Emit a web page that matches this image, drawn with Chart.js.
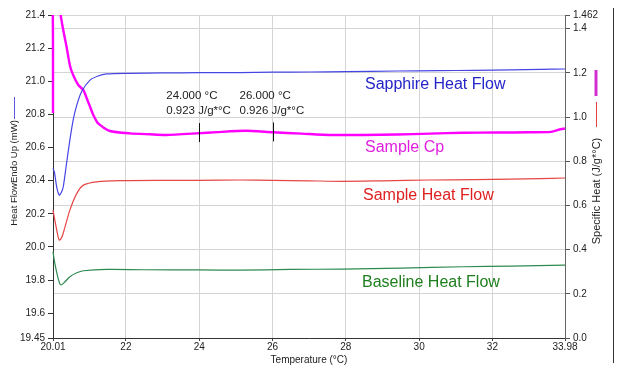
<!DOCTYPE html>
<html><head><meta charset="utf-8">
<script src="https://cdn.jsdelivr.net/npm/chart.js@4/dist/chart.umd.min.js"></script>
<style>html,body{margin:0;padding:0;background:#fff;}#wrap{position:relative;width:628px;height:379px;}</style>
</head><body><div id="wrap"><canvas id="c" width="628" height="379"></canvas></div>
<script>
// ---- tick labels ----
const xTicks = [20.01, 22, 24, 26, 28, 30, 32, 33.98];
const xTickLabels = ['20.01', '22', '24', '26', '28', '30', '32', '33.98'];
const leftTicks = [19.45, 19.6, 19.8, 20.0, 20.2, 20.4, 20.6, 20.8, 21.0, 21.2, 21.4];
const leftTickLabels = ['19.45', '19.6', '19.8', '20.0', '20.2', '20.4', '20.6', '20.8', '21.0', '21.2', '21.4'];
const rightTicks = [0, 0.2, 0.4, 0.6, 0.8, 1.0, 1.2, 1.4, 1.462];
const rightTickLabels = ['0.0', '0.2', '0.4', '0.6', '0.8', '1.0', '1.2', '1.4', '1.462'];

// ---- series (temperature °C, value) ----
const sapphireT = [20.01, 20.05, 20.11, 20.18, 20.24, 20.29, 20.38, 20.47, 20.56, 20.66, 20.79, 21.02, 21.24, 21.47, 22.1, 23.0, 24.0, 25.1, 26.0, 27.0, 28.0, 29.4, 30.5, 31.5, 32.5, 33.3, 33.98];
const sapphire  = [20.474, 20.45, 20.363, 20.313, 20.33, 20.363, 20.505, 20.645, 20.766, 20.857, 20.937, 21.007, 21.032, 21.044, 21.048, 21.05, 21.052, 21.052, 21.055, 21.056, 21.058, 21.062, 21.064, 21.066, 21.069, 21.072, 21.074];

const sampleT = [20.01, 20.06, 20.13, 20.18, 20.25, 20.34, 20.47, 20.66, 20.84, 21.2, 21.92, 23.0, 24.0, 25.1, 26.0, 27.0, 27.9, 29.0, 30.28, 31.5, 32.5, 33.3, 33.98];
const sample  = [20.222, 20.162, 20.082, 20.041, 20.058, 20.122, 20.222, 20.323, 20.373, 20.393, 20.40, 20.402, 20.402, 20.404, 20.402, 20.399, 20.396, 20.399, 20.404, 20.406, 20.409, 20.412, 20.416];

const baselineT = [20.01, 20.06, 20.15, 20.22, 20.34, 20.47, 20.66, 20.84, 21.47, 22.5, 24.0, 25.1, 26.5, 27.9, 29.5, 31.2, 32.5, 33.98];
const baseline  = [19.971, 19.90, 19.81, 19.77, 19.79, 19.82, 19.844, 19.856, 19.864, 19.862, 19.861, 19.86, 19.864, 19.866, 19.872, 19.88, 19.884, 19.89];

const cpT = [20.01, 20.01, 20.015, 20.22, 20.29, 20.38, 20.47, 20.56, 20.70, 20.84, 20.93, 21.02, 21.11, 21.24, 21.56, 22.11, 22.65, 23.1, 23.92, 24.5, 25.28, 26.0, 26.8, 27.55, 28.5, 29.38, 30.3, 31.2, 32.1, 33.0, 33.6, 33.86, 33.98];
const cp  = [1.018, 1.30, 1.75, 1.462, 1.394, 1.318, 1.235, 1.19, 1.145, 1.122, 1.085, 1.047, 1.009, 0.971, 0.937, 0.926, 0.922, 0.919, 0.926, 0.932, 0.938, 0.931, 0.925, 0.919, 0.919, 0.921, 0.925, 0.929, 0.930, 0.931, 0.933, 0.945, 0.948];

// ---- annotations ----
const annotT = [24, 26];
const annotCp = [0.923, 0.926];
const annotLine1 = ['24.000 °C', '26.000 °C'];
const annotLine2 = ['0.923 J/g*°C', '0.926 J/g*°C'];

const seriesLabels = ['Sapphire Heat Flow', 'Sample Cp', 'Sample Heat Flow', 'Baseline Heat Flow'];

const FONT = 'Arial, "Liberation Sans", sans-serif';
const pts = (xs, ys) => xs.map((x, i) => ({x: x, y: ys[i]}));

const overlay = {
  id: 'overlay',
  afterDraw(chart) {
    const ctx = chart.ctx;
    const xs = chart.scales.x, yr = chart.scales.yR;
    ctx.save();
    // series labels
    const lab = [
      [seriesLabels[0], '#2424c8', 365, 85],
      [seriesLabels[1], '#e020e0', 365, 148],
      [seriesLabels[2], '#e02020', 363, 196],
      [seriesLabels[3], '#1e7e1e', 362, 283]
    ];
    ctx.font = '16px ' + FONT;
    ctx.textBaseline = 'middle';
    ctx.textAlign = 'left';
    lab.forEach(l => { ctx.fillStyle = l[1]; ctx.fillText(l[0], l[2], l[3]); });
    // annotations
    ctx.font = '11.5px ' + FONT;
    ctx.fillStyle = '#222';
    annotT.forEach((t, i) => {
      const px = xs.getPixelForValue(t);
      const py = yr.getPixelForValue(annotCp[i]);
      ctx.fillText(annotLine1[i], px - 33, 96);
      ctx.fillText(annotLine2[i], px - 33, 111);
      ctx.strokeStyle = '#111'; ctx.lineWidth = 1;
      ctx.beginPath(); ctx.moveTo(Math.round(px) + 0.5, py - 11); ctx.lineTo(Math.round(px) + 0.5, py + 8); ctx.stroke();
    });
    // left axis title with icon
    ctx.fillStyle = '#222';
    ctx.save();
    ctx.translate(14, 173); ctx.rotate(-Math.PI / 2);
    ctx.font = '9.5px ' + FONT; ctx.textAlign = 'center';
    ctx.fillText('Heat FlowEndo Up (mW)', 0, 0);
    ctx.restore();
    ctx.strokeStyle = '#5a5ae0'; ctx.lineWidth = 1;
    ctx.beginPath(); ctx.moveTo(14.5, 97); ctx.lineTo(14.5, 119); ctx.stroke();
    // right axis title with icons
    ctx.save();
    ctx.translate(597, 191); ctx.rotate(-Math.PI / 2);
    ctx.font = '11px ' + FONT; ctx.textAlign = 'center';
    ctx.fillText('Specific Heat (J/g*°C)', 0, 0);
    ctx.restore();
    ctx.strokeStyle = '#d030d0'; ctx.lineWidth = 3;
    ctx.beginPath(); ctx.moveTo(596, 70); ctx.lineTo(596, 96); ctx.stroke();
    ctx.strokeStyle = '#e04040'; ctx.lineWidth = 1;
    ctx.beginPath(); ctx.moveTo(596.5, 102); ctx.lineTo(596.5, 127); ctx.stroke();
    // frame line on the right
    ctx.strokeStyle = '#333'; ctx.lineWidth = 1;
    ctx.beginPath(); ctx.moveTo(613.5, 8); ctx.lineTo(613.5, 363); ctx.stroke();
    ctx.restore();
  }
};

new Chart(document.getElementById('c'), {
  type: 'line',
  data: {
    datasets: [
      {label: seriesLabels[0], data: pts(sapphireT, sapphire), yAxisID: 'yL', borderColor: '#4646e6', borderWidth: 1.2, pointRadius: 0, tension: 0.3, clip: {left: 2, top: 0, right: 0, bottom: 0}},
      {label: seriesLabels[2], data: pts(sampleT, sample), yAxisID: 'yL', borderColor: '#e64646', borderWidth: 1.2, pointRadius: 0, tension: 0.3, clip: {left: 2, top: 0, right: 0, bottom: 0}},
      {label: seriesLabels[3], data: pts(baselineT, baseline), yAxisID: 'yL', borderColor: '#2e8b50', borderWidth: 1.2, pointRadius: 0, tension: 0.3, clip: {left: 2, top: 0, right: 0, bottom: 0}},
      {label: seriesLabels[1], data: pts(cpT, cp), yAxisID: 'yR', borderColor: '#ff00ff', borderWidth: 2.4, pointRadius: 0, tension: 0.2, clip: {left: 3, top: 0, right: 0, bottom: 0}}
    ]
  },
  options: {
    responsive: false,
    animation: false,
    layout: {padding: {top: 15, left: 0, right: 0, bottom: 0}},
    plugins: {legend: {display: false}, tooltip: {enabled: false}},
    scales: {
      x: {
        type: 'linear', min: 20.01, max: 33.98,
        afterBuildTicks: s => { s.ticks = xTicks.map(v => ({value: v})); },
        afterFit: s => { s.height = 41; },
        ticks: {autoSkip: false, maxRotation: 0, padding: 0, color: '#222', font: {family: FONT, size: 10},
          callback: (v) => xTickLabels[xTicks.indexOf(v)]},
        grid: {color: '#d4d4d4', tickLength: 3, tickColor: '#444'},
        border: {color: '#333'},
        title: {display: true, text: 'Temperature (°C)', color: '#222', font: {family: FONT, size: 10}, padding: {top: 0, bottom: 13}}
      },
      yL: {
        type: 'linear', position: 'left', min: 19.45, max: 21.4,
        afterBuildTicks: s => { s.ticks = leftTicks.map(v => ({value: v})); },
        afterFit: s => { s.width = 53; },
        ticks: {autoSkip: false, padding: 3, color: '#222', font: {family: FONT, size: 10},
          callback: (v) => leftTickLabels[leftTicks.indexOf(v)]},
        grid: {drawOnChartArea: false, tickLength: 5, tickColor: '#333'},
        border: {color: '#333'}
      },
      yR: {
        type: 'linear', position: 'right', min: 0, max: 1.462,
        afterBuildTicks: s => { s.ticks = rightTicks.map(v => ({value: v})); },
        afterFit: s => { s.width = 63; },
        ticks: {autoSkip: false, padding: 3, color: '#222', font: {family: FONT, size: 10},
          callback: (v) => rightTickLabels[rightTicks.indexOf(v)]},
        grid: {color: '#d4d4d4', tickLength: 5, tickColor: '#555'},
        border: {color: '#666'}
      }
    }
  },
  plugins: [overlay]
});
</script>
</body></html>
